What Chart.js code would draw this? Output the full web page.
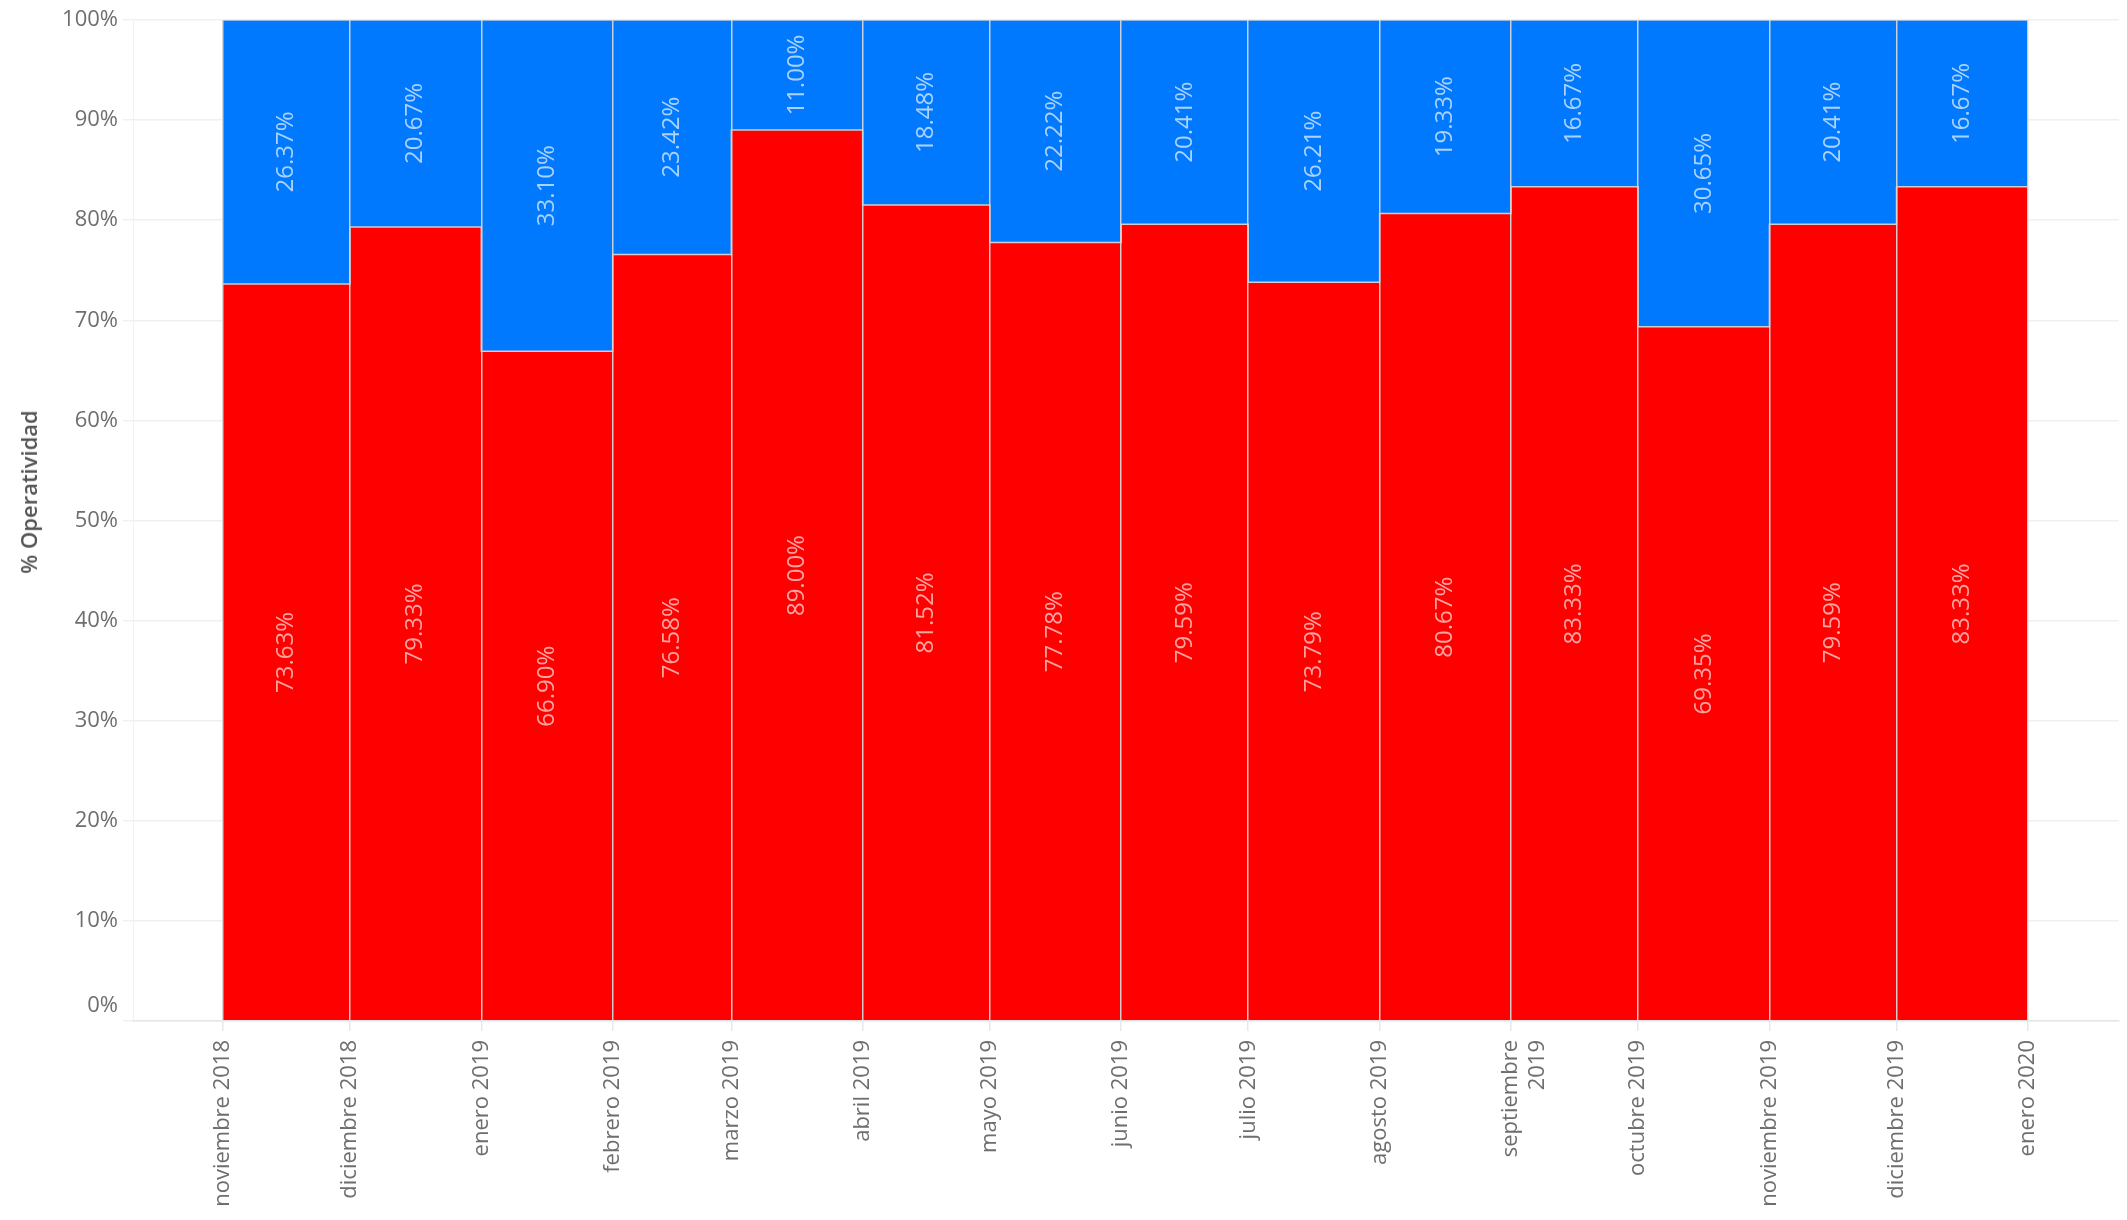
<!DOCTYPE html>
<html>
<head>
<meta charset="utf-8">
<script src="https://cdn.jsdelivr.net/npm/chart.js@4.4.0/dist/chart.umd.min.js"></script>
<style>
    html, body { margin: 0; padding: 0; background: #fff; }
    #wrap { position: relative; width: 2127px; height: 1220px; }
    #yTitle {
        position: absolute;
        left: 28px;
        top: 492px;
        transform: translate(-50%, -50%) rotate(-90deg);
        font-family: 'Open Sans', sans-serif;
        font-weight: 600;
        font-size: 22px;
        color: #555;
        white-space: nowrap;
    }
</style>
</head>
<body>
<div id="wrap">
    <canvas id="operatividad-chart"></canvas>
    <div id="yTitle">% Operatividad</div>
</div>
<script>
// Month starts (the last one closes the final bar)
const monthStarts = [
    '2018-11-01', '2018-12-01', '2019-01-01', '2019-02-01', '2019-03-01',
    '2019-04-01', '2019-05-01', '2019-06-01', '2019-07-01', '2019-08-01',
    '2019-09-01', '2019-10-01', '2019-11-01', '2019-12-01', '2020-01-01'
];
const monthLabels = [
    'noviembre 2018', 'diciembre 2018', 'enero 2019', 'febrero 2019', 'marzo 2019',
    'abril 2019', 'mayo 2019', 'junio 2019', 'julio 2019', 'agosto 2019',
    ['septiembre', '2019'], 'octubre 2019', 'noviembre 2019', 'diciembre 2019', 'enero 2020'
];
// Share per month (red = bottom, blue = top)
const operativoPct = [73.63, 79.33, 66.90, 76.58, 89.00, 81.52, 77.78, 79.59, 73.79, 80.67, 83.33, 69.35, 79.59, 83.33];
const noOperativoPct = [26.37, 20.67, 33.10, 23.42, 11.00, 18.48, 22.22, 20.41, 26.21, 19.33, 16.67, 30.65, 20.41, 16.67];
const yTicks = [0, 10, 20, 30, 40, 50, 60, 70, 80, 90, 100];

const COLORS = {
    red: '#ff0000',
    blue: '#0079ff',
    redLabel: '#ffa3a3',
    blueLabel: '#a9d2ff',
    separator: 'rgba(212,212,212,0.95)',
    grid: '#f0f0f0',
    tick: '#6e6e6e'
};
const TICK_FONT = "22px 'Open Sans', sans-serif";

Chart.defaults.font.family = "'Open Sans', sans-serif";

const DAY = 24 * 3600 * 1000;
const t0 = Date.parse(monthStarts[0]);
const dayOffsets = monthStarts.map(d => Math.round((Date.parse(d) - t0) / DAY));

// stepped points: one per month start, last value repeated at the closing date
function toSteps(values) {
    const pts = values.map((v, i) => ({ x: dayOffsets[i], y: v }));
    pts.push({ x: dayOffsets[dayOffsets.length - 1], y: values[values.length - 1] });
    return pts;
}

const barLabels = {
    id: 'barLabels',
    afterDatasetsDraw(chart) {
        const { ctx, scales: { x, y } } = chart;
        ctx.save();
        ctx.font = "24px 'Open Sans', sans-serif";
        ctx.textAlign = 'center';
        ctx.textBaseline = 'middle';
        operativoPct.forEach((red, i) => {
            const blue = noOperativoPct[i];
            const cx = x.getPixelForValue((dayOffsets[i] + dayOffsets[i + 1]) / 2);
            const items = [
                { v: red, mid: red / 2, color: COLORS.redLabel },
                { v: blue, mid: red + blue / 2, color: COLORS.blueLabel }
            ];
            items.forEach(it => {
                ctx.save();
                ctx.translate(cx, y.getPixelForValue(it.mid));
                ctx.rotate(-Math.PI / 2);
                ctx.fillStyle = it.color;
                ctx.fillText(it.v.toFixed(2) + '%', 0, 0);
                ctx.restore();
            });
        });
        ctx.restore();
    },
    // the bottom value label sits a little above its grid line
    afterDraw(chart) {
        const { ctx, scales: { y } } = chart;
        ctx.save();
        ctx.font = TICK_FONT;
        ctx.fillStyle = COLORS.tick;
        ctx.textAlign = 'right';
        ctx.textBaseline = 'middle';
        ctx.fillText(yTicks[0] + '%', y.right - 15, y.getPixelForValue(yTicks[0]) - 15);
        ctx.restore();
    }
};

const ctx = document.getElementById('operatividad-chart').getContext('2d');
const chart = new Chart(ctx, {
    type: 'line',
    data: {
        datasets: [
            {
                label: 'Operativo',
                data: toSteps(operativoPct),
                stepped: 'before',
                fill: 'origin',
                backgroundColor: COLORS.red,
                borderColor: COLORS.separator,
                borderWidth: 1.5,
                pointRadius: 0
            },
            {
                label: 'No operativo',
                data: toSteps(noOperativoPct),
                stepped: 'before',
                fill: '-1',
                backgroundColor: COLORS.blue,
                borderColor: COLORS.separator,
                borderWidth: 1.5,
                pointRadius: 0
            }
        ]
    },
    options: {
        responsive: true,
        maintainAspectRatio: false,
        animation: false,
        events: [],
        layout: { padding: { left: 0, right: 8, top: 20, bottom: 0 } },
        plugins: {
            legend: { display: false },
            tooltip: { enabled: false }
        },
        scales: {
            x: {
                type: 'linear',
                min: -21.2,
                max: 447.5,
                afterBuildTicks: scale => {
                    scale.ticks = dayOffsets.map(v => ({ value: v }));
                },
                afterFit: scale => { scale.height = 199; },
                ticks: {
                    autoSkip: false,
                    minRotation: 90,
                    maxRotation: 90,
                    padding: 9,
                    color: COLORS.tick,
                    font: { size: 22 },
                    callback: (value, index) => monthLabels[index]
                },
                grid: {
                    z: 1,
                    color: COLORS.separator,
                    lineWidth: 1.5,
                    tickColor: '#e8e8e8',
                    tickLength: 10
                },
                border: { display: true, z: 1, color: '#e6e6e6', width: 1.5 }
            },
            y: {
                stacked: true,
                min: 0,
                max: 100,
                afterBuildTicks: scale => {
                    scale.ticks = yTicks.map(v => ({ value: v }));
                },
                afterFit: scale => { scale.width = 133; },
                ticks: {
                    padding: 5,
                    color: COLORS.tick,
                    font: { size: 22 },
                    callback: v => (v === yTicks[0] ? '' : v + '%')
                },
                grid: {
                    color: COLORS.grid,
                    lineWidth: 1.5,
                    tickLength: 10
                },
                border: { display: true, color: '#f2f2f2' },
                title: { display: false }
            }
        }
    },
    plugins: [barLabels]
});
</script>
</body>
</html>
